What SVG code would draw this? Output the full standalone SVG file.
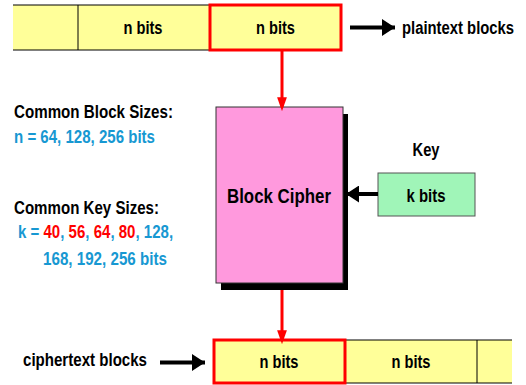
<svg xmlns="http://www.w3.org/2000/svg" width="526" height="385" viewBox="0 0 526 385">
<style>
text{font-family:"Liberation Sans",Arial,sans-serif;font-weight:bold;font-size:18px;fill:#000}
.blue{fill:#1798d2}
.red{fill:#ff0000}
.yl{fill:#ffff99;stroke:none}
.ln{stroke:#000;stroke-width:1;fill:none}
.rb{fill:#ffff99;stroke:#ff0000;stroke-width:3}
.ra{stroke:#ff0000;stroke-width:3;fill:none}
.ba{stroke:#000;stroke-width:4;fill:none}
</style>
<defs>
<marker id="rh" markerWidth="14" markerHeight="20" refX="14" refY="7" orient="auto" markerUnits="userSpaceOnUse" viewBox="0 0 20 14">
<path d="M0,0 L20,7 L0,14 Z" fill="#ff0000"/>
</marker>
<marker id="bh" markerWidth="13" markerHeight="17" refX="13" refY="8.5" orient="auto" markerUnits="userSpaceOnUse" viewBox="0 0 13 17">
<path d="M0,0 L13,8.5 L0,17 Z" fill="#000"/>
</marker>
</defs>

<g id="plaintext">
<rect class="yl" x="13" y="5" width="197" height="45"/>
<path class="ln" d="M13,5 H210 M13,50 H210 M78,5 V50"/>
<rect class="rb" x="210" y="5" width="131" height="45"/>
<text x="143" y="34" text-anchor="middle" textLength="39" lengthAdjust="spacingAndGlyphs">n bits</text>
<text x="275.5" y="34" text-anchor="middle" textLength="39" lengthAdjust="spacingAndGlyphs">n bits</text>
</g>

<g id="plaintext-label">
<text transform="translate(402,34) scale(0.824,1)" x="0" y="0">plaintext blocks</text>
</g>

<g id="cipher">
<rect x="221" y="114" width="127" height="176" fill="#000"/>
<rect x="216" y="107" width="127" height="176" fill="#ff99dd" stroke="#333" stroke-width="1"/>
<text x="279" y="203" text-anchor="middle" textLength="104" lengthAdjust="spacingAndGlyphs" style="font-size:21px">Block Cipher</text>
</g>

<g id="key">
<text x="426" y="156" text-anchor="middle" textLength="27" lengthAdjust="spacingAndGlyphs">Key</text>
<rect x="378" y="173" width="97" height="43" fill="#a0f5b8" stroke="#555" stroke-width="1"/>
<text x="426" y="202" text-anchor="middle" textLength="39" lengthAdjust="spacingAndGlyphs">k bits</text>
</g>

<g id="ciphertext">
<rect class="yl" x="345" y="340" width="167" height="43"/>
<path class="ln" d="M345,340 H512 M345,383 H512 M477,340 V383"/>
<rect class="rb" x="214" y="340" width="131" height="43"/>
<text x="279" y="368" text-anchor="middle" textLength="39" lengthAdjust="spacingAndGlyphs">n bits</text>
<text x="411" y="368" text-anchor="middle" textLength="39" lengthAdjust="spacingAndGlyphs">n bits</text>
</g>

<g id="ciphertext-label">
<text x="23" y="366" textLength="124" lengthAdjust="spacingAndGlyphs">ciphertext blocks</text>
</g>

<g id="sizes">
<text x="14" y="118" textLength="159" lengthAdjust="spacingAndGlyphs">Common Block Sizes:</text>
<text x="14" y="143" class="blue" textLength="141" lengthAdjust="spacingAndGlyphs">n = 64, 128, 256 bits</text>
<text x="14" y="214" textLength="145" lengthAdjust="spacingAndGlyphs">Common Key Sizes:</text>
<text transform="translate(18,238) scale(0.835,1)" x="0" y="0"><tspan class="blue">k = </tspan><tspan class="red">40</tspan><tspan class="blue">, </tspan><tspan class="red">56</tspan><tspan class="blue">, </tspan><tspan class="red">64</tspan><tspan class="blue">, </tspan><tspan class="red">80</tspan><tspan class="blue">, 128,</tspan></text>
<text x="43" y="265" class="blue" textLength="124" lengthAdjust="spacingAndGlyphs">168, 192, 256 bits</text>
</g>

<g id="connectors">
<line class="ra" x1="282" y1="50" x2="282" y2="107" marker-end="url(#rh)"/>
<line class="ra" x1="282" y1="290" x2="282" y2="340" marker-end="url(#rh)"/>
<line class="ba" x1="378" y1="194" x2="346" y2="194" marker-end="url(#bh)"/>
<line class="ba" x1="350" y1="27.5" x2="395" y2="27.5" marker-end="url(#bh)"/>
<line class="ba" x1="160" y1="362.5" x2="205" y2="362.5" marker-end="url(#bh)"/>
</g>
</svg>
